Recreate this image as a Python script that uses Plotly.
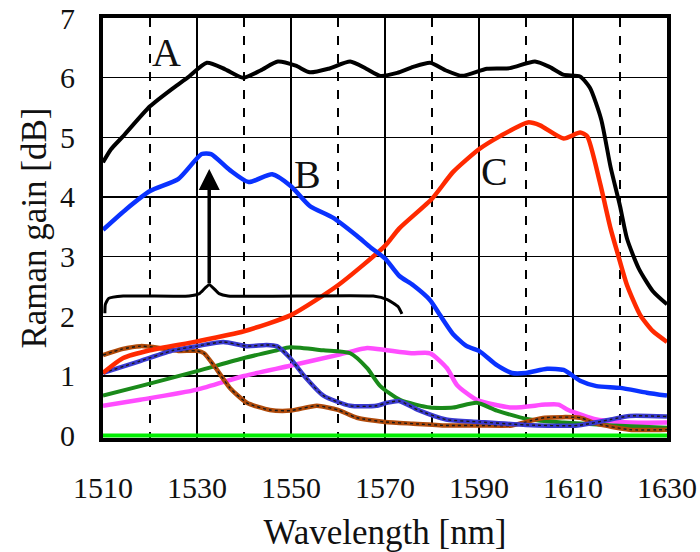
import plotly.graph_objects as go

# ---------------- data ----------------
wl_A = [1510, 1511.7, 1514.3, 1520, 1525, 1528, 1532.1, 1536, 1539.8, 1543.5, 1547.2, 1551, 1554, 1558,
        1562.6, 1566, 1569, 1572.6, 1576, 1579.6, 1583, 1586.4, 1591.7, 1596.6, 1601.9, 1605,
        1607.9, 1611.5, 1613.6, 1616, 1618, 1620, 1621.5, 1624, 1627, 1630]
gain_A = [4.58, 4.8, 5.02, 5.52, 5.83, 6.0, 6.25, 6.14, 6.0, 6.12, 6.27, 6.2, 6.09, 6.15,
          6.27, 6.15, 6.03, 6.08, 6.18, 6.25, 6.12, 6.03, 6.15, 6.16, 6.27, 6.18,
          6.05, 6.02, 5.83, 5.3, 4.5, 3.85, 3.3, 2.8, 2.42, 2.2]

wl_B = [1510, 1515, 1520, 1526, 1531, 1533, 1537, 1541, 1546, 1550, 1554, 1559, 1564, 1567, 1570,
        1573, 1576, 1579.6, 1581.7, 1584.5, 1587.4, 1590, 1593.8, 1597, 1600, 1604.5, 1608,
        1611.5, 1615, 1620, 1625.7, 1630]
gain_B = [3.45, 3.8, 4.1, 4.3, 4.72, 4.72, 4.45, 4.25, 4.38, 4.18, 3.85, 3.65, 3.35, 3.15, 2.97,
          2.68, 2.52, 2.27, 2.02, 1.7, 1.5, 1.42, 1.18, 1.05, 1.05, 1.12, 1.1,
          0.92, 0.83, 0.8, 0.72, 0.67]

wl_C = [1510, 1514.3, 1520, 1530, 1540, 1550, 1560, 1570, 1573, 1580, 1584.5, 1590, 1594.5,
        1600.4, 1603, 1608, 1611.5, 1613, 1615.7, 1618, 1619.4, 1621.5, 1624.3, 1627, 1630]
gain_C = [1.05, 1.3, 1.43, 1.58, 1.75, 2.02, 2.52, 3.18, 3.47, 3.97, 4.42, 4.8, 5.02,
          5.25, 5.2, 4.98, 5.08, 5.02, 4.25, 3.47, 3.08, 2.52, 2.02, 1.75, 1.57]

wl_brown = [1510, 1514, 1518, 1522, 1526, 1530, 1531.5, 1534, 1537, 1540.6, 1545.5, 1550, 1555.5,
            1560, 1564, 1570, 1576, 1583, 1590, 1597, 1601, 1604, 1611.5, 1615, 1622, 1630]
gain_brown = [1.35, 1.45, 1.5, 1.47, 1.42, 1.42, 1.38, 1.13, 0.8, 0.55, 0.43, 0.42, 0.5,
              0.43, 0.3, 0.23, 0.2, 0.17, 0.17, 0.17, 0.25, 0.3, 0.3, 0.2, 0.1, 0.1]

wl_navy = [1510, 1517.9, 1525, 1530, 1535.6, 1540.6, 1544.8, 1547, 1549.8, 1552.6, 1556.9, 1562.6,
           1568.2, 1570.4, 1573, 1577, 1583, 1590, 1600, 1611, 1618, 1622, 1630]
gain_navy = [1.05, 1.25, 1.43, 1.5, 1.57, 1.5, 1.52, 1.5, 1.3, 1.02, 0.67, 0.5,
             0.5, 0.55, 0.58, 0.43, 0.27, 0.23, 0.18, 0.17, 0.27, 0.33, 0.32]

wl_green = [1510, 1517.9, 1530, 1540, 1547, 1549.8, 1556.9, 1562.6, 1566.2, 1569, 1573.2, 1579.6,
            1584.5, 1589.5, 1593.8, 1600.9, 1608, 1618.6, 1630]
gain_green = [0.67, 0.83, 1.08, 1.3, 1.43, 1.48, 1.43, 1.38, 1.13, 0.83, 0.6, 0.47,
              0.47, 0.55, 0.42, 0.27, 0.22, 0.17, 0.13]

wl_mag = [1510, 1517.9, 1530, 1540, 1549.8, 1559.8, 1566.2, 1570.4, 1575.6, 1579.6, 1583.2, 1585.3,
          1589.5, 1597, 1604.1, 1606.9, 1609, 1615, 1622.1, 1630]
gain_mag = [0.5, 0.6, 0.77, 1.0, 1.17, 1.35, 1.47, 1.43, 1.38, 1.38, 1.13, 0.85,
            0.6, 0.47, 0.52, 0.52, 0.43, 0.27, 0.22, 0.22]

wl_zero = [1510, 1630]
gain_zero = [0, 0]

# bracket (brace) drawn on the chart, and the arrow above it
brace_wl = [1510.4, 1510.5, 1511.2, 1514.3, 1528.3, 1530.5, 1532.6, 1534.7, 1536.6, 1567.5, 1570.5, 1572.8, 1573.6]
brace_db = [2.05, 2.2, 2.3, 2.34, 2.34, 2.38, 2.53, 2.38, 2.34, 2.34, 2.28, 2.16, 2.04]
arrow_wl = 1532.6
arrow_from_db = 2.53
arrow_to_db = 4.47

labels_text = ["A", "B", "C"]
labels_wl = [1523.6, 1553.6, 1593.4]
labels_db = [6.42, 4.38, 4.42]

x_ticks = [1510, 1530, 1550, 1570, 1590, 1610, 1630]

FONT = "Liberation Serif, Times New Roman, serif"

fig = go.Figure()

def add_line(x, y, color, width, dotted=False):
    fig.add_trace(go.Scatter(x=x, y=y, mode="lines",
                             line=dict(color=color, width=width, shape="spline", smoothing=0.6),
                             hoverinfo="skip", showlegend=False))
    if dotted:
        fig.add_trace(go.Scatter(x=x, y=y, mode="lines",
                                 line=dict(color="#1a1a1a", width=1.4, dash="dot",
                                           shape="spline", smoothing=0.6),
                                 hoverinfo="skip", showlegend=False))

add_line(wl_zero, gain_zero, "#00ee00", 4)
add_line(wl_mag, gain_mag, "#ff4dff", 4.5)
add_line(wl_green, gain_green, "#1a8a1a", 4)
add_line(wl_brown, gain_brown, "#b04a0a", 4.5, dotted=True)
add_line(wl_navy, gain_navy, "#3a3ad0", 4.5, dotted=True)
add_line(wl_C, gain_C, "#ff2a00", 4.5)
add_line(wl_B, gain_B, "#0a32ff", 4.5)
add_line(wl_A, gain_A, "#000000", 4)

# brace
fig.add_trace(go.Scatter(x=brace_wl, y=brace_db, mode="lines",
                         line=dict(color="black", width=3, shape="spline", smoothing=0.5),
                         hoverinfo="skip", showlegend=False))

# arrow
fig.add_annotation(x=arrow_wl, y=arrow_to_db, ax=arrow_wl, ay=arrow_from_db,
                   xref="x", yref="y", axref="x", ayref="y",
                   showarrow=True, arrowhead=2, arrowsize=1.2, arrowwidth=3.5,
                   arrowcolor="black", text="")

for t, xv, yv in zip(labels_text, labels_wl, labels_db):
    fig.add_annotation(x=xv, y=yv, xref="x", yref="y", text=t, showarrow=False,
                       font=dict(family=FONT, size=40, color="#111"))

fig.update_layout(
    width=700, height=552,
    margin=dict(l=103, r=33, t=18, b=114),
    paper_bgcolor="white", plot_bgcolor="white",
    showlegend=False,
    font=dict(family=FONT, color="#111"),
)

fig.update_xaxes(
    range=[1510, 1630], tickmode="array", tickvals=x_ticks,
    ticktext=[str(v) for v in x_ticks],
    tickfont=dict(family=FONT, size=30, color="#111"),
    ticklabelstandoff=20, ticklabeloverflow="allow",
    showgrid=True, gridcolor="black", gridwidth=1.5,
    minor=dict(tick0=1510, dtick=10, showgrid=True, gridcolor="black",
               griddash="dash", gridwidth=1.2),
    showline=True, linecolor="black", linewidth=4, mirror=True,
    zeroline=False, automargin=False,
    title=dict(text="Wavelength [nm]", font=dict(family=FONT, size=35, color="#111"), standoff=18),
)
fig.update_yaxes(
    range=[-0.04, 7], tickmode="linear", tick0=0, dtick=1,
    tickfont=dict(family=FONT, size=30, color="#111"),
    ticklabelstandoff=18, ticklabeloverflow="allow",
    showgrid=True, gridcolor="black", gridwidth=1.5,
    showline=True, linecolor="black", linewidth=4, mirror=True,
    zeroline=False, automargin=False,
    title=dict(text="Raman gain [dB]", font=dict(family=FONT, size=35, color="#111"), standoff=4),
)

# remove the default 8 px page margin so the 700x552 figure fills the window exactly
fig.write_html("out.html",
               config={"displayModeBar": False, "staticPlot": True},
               post_script="document.body.style.margin='0';document.body.style.overflow='hidden';")
